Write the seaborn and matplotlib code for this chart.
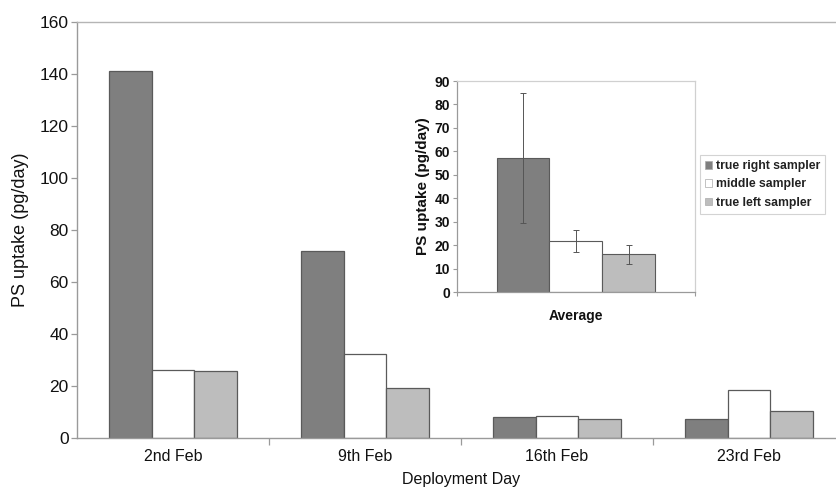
import matplotlib
matplotlib.use("Agg")
import matplotlib.pyplot as plt
import seaborn as sns
import pandas as pd

# Passive sampler uptake per deployment day
days = ["2nd Feb", "9th Feb", "16th Feb", "23rd Feb"]
samplers = ["true right sampler", "middle sampler", "true left sampler"]
true_right = [141.0, 72.0, 8.0, 7.2]
middle = [26.2, 32.3, 8.6, 18.6]
true_left = [25.8, 19.4, 7.4, 10.4]

# Averages across deployments with their error ranges
avg_values = [57.1, 21.8, 16.0]
avg_errors = [27.7, 4.6, 4.0]

colors = ["#7f7f7f", "#ffffff", "#bdbdbd"]
edge = "#5a5a5a"
axis_grey = "#9a9a9a"

sns.set_theme(style="white")
plt.rcParams["font.family"] = ["Liberation Sans", "DejaVu Sans"]

df = pd.DataFrame({
    "day": days * 3,
    "sampler": [s for s in samplers for _ in days],
    "uptake": true_right + middle + true_left,
})
df_avg = pd.DataFrame({"cat": ["Average"] * 3, "sampler": samplers, "uptake": avg_values})

fig = plt.figure(figsize=(8.37, 4.94), dpi=100)

# Main chart
ax = fig.add_axes([0.092, 0.1134, 0.9176, 0.842])
sns.barplot(data=df, x="day", y="uptake", hue="sampler", hue_order=samplers,
            palette=colors, width=0.665, edgecolor=edge, linewidth=0.9,
            saturation=1, legend=False, ax=ax)
ax.set_ylim(0, 160)
ax.set_xlim(-0.5, 3.5)
ax.set_yticks(range(0, 161, 20))
ax.set_xticks([0, 1, 2, 3])
ax.set_xticklabels(days)
ax.set_xticks([0.5, 1.5, 2.5], minor=True)
ax.tick_params(axis="x", which="major", bottom=False, length=0, labelsize=11.5, pad=8,
               labelcolor="#111111")
ax.tick_params(axis="x", which="minor", bottom=True, length=5, width=0.9,
               color=axis_grey, direction="out")
ax.tick_params(axis="y", left=True, length=4, width=0.9, color=axis_grey, direction="out",
               labelsize=12.5, pad=2, labelcolor="#111111")
for s in ax.spines.values():
    s.set_color(axis_grey)
    s.set_linewidth(1.0)
ax.spines["top"].set_color("#b5b5b5")
ax.set_xlabel("Deployment Day", fontsize=11.5, labelpad=6, color="#111111")
ax.set_ylabel("PS uptake (pg/day)", fontsize=13, labelpad=8, color="#111111")

# Inset with the average uptake
ins = fig.add_axes([0.546, 0.4089, 0.2843, 0.4271])
sns.barplot(data=df_avg, x="cat", y="uptake", hue="sampler", hue_order=samplers,
            palette=colors, width=0.668, edgecolor=edge, linewidth=0.8,
            saturation=1, ax=ins)
for patch, val, err in zip(ins.patches[:3], avg_values, avg_errors):
    xc = patch.get_x() + patch.get_width() / 2
    ins.errorbar(xc, val, yerr=err, fmt="none", ecolor="#555555",
                 elinewidth=0.7, capsize=2, capthick=0.7)
ins.set_ylim(0, 90)
ins.set_xlim(-0.5, 0.5)
ins.set_yticks(range(0, 91, 10))
ins.set_xticks([0])
ins.set_xticklabels([""])
ins.set_xticks([-0.5, 0.5], minor=True)
ins.tick_params(axis="x", which="major", bottom=False, length=0)
ins.tick_params(axis="x", which="minor", bottom=True, length=3, width=0.8,
                color=axis_grey, direction="out")
ins.tick_params(axis="y", left=True, length=3, width=0.8, color=axis_grey, direction="out",
                labelsize=10, pad=2)
for lbl in ins.get_yticklabels():
    lbl.set_fontweight("bold")
    lbl.set_color("#111111")
for name, s in ins.spines.items():
    s.set_linewidth(0.9)
    s.set_color(axis_grey if name in ("left", "bottom") else "#d0d0d0")
ins.set_xlabel("Average", fontsize=10, fontweight="bold", labelpad=6, color="#111111")
ins.set_ylabel("PS uptake (pg/day)", fontsize=11, fontweight="bold", labelpad=3,
               color="#111111")

leg = ins.legend(loc="center left", bbox_to_anchor=(1.02, 0.51), frameon=True,
                 fancybox=False, fontsize=8.8, handlelength=0.55, handleheight=0.55,
                 handletextpad=0.3, borderpad=0.45, labelspacing=0.5,
                 borderaxespad=0, title=None)
leg.get_frame().set_edgecolor("#c8c8c8")
leg.get_frame().set_linewidth(0.8)
for t in leg.get_texts():
    t.set_fontweight("bold")
    t.set_color("#222222")
for h in leg.legend_handles:
    h.set_edgecolor("#aaaaaa")
    h.set_linewidth(0.5)

fig.savefig("out.png", dpi=100)
